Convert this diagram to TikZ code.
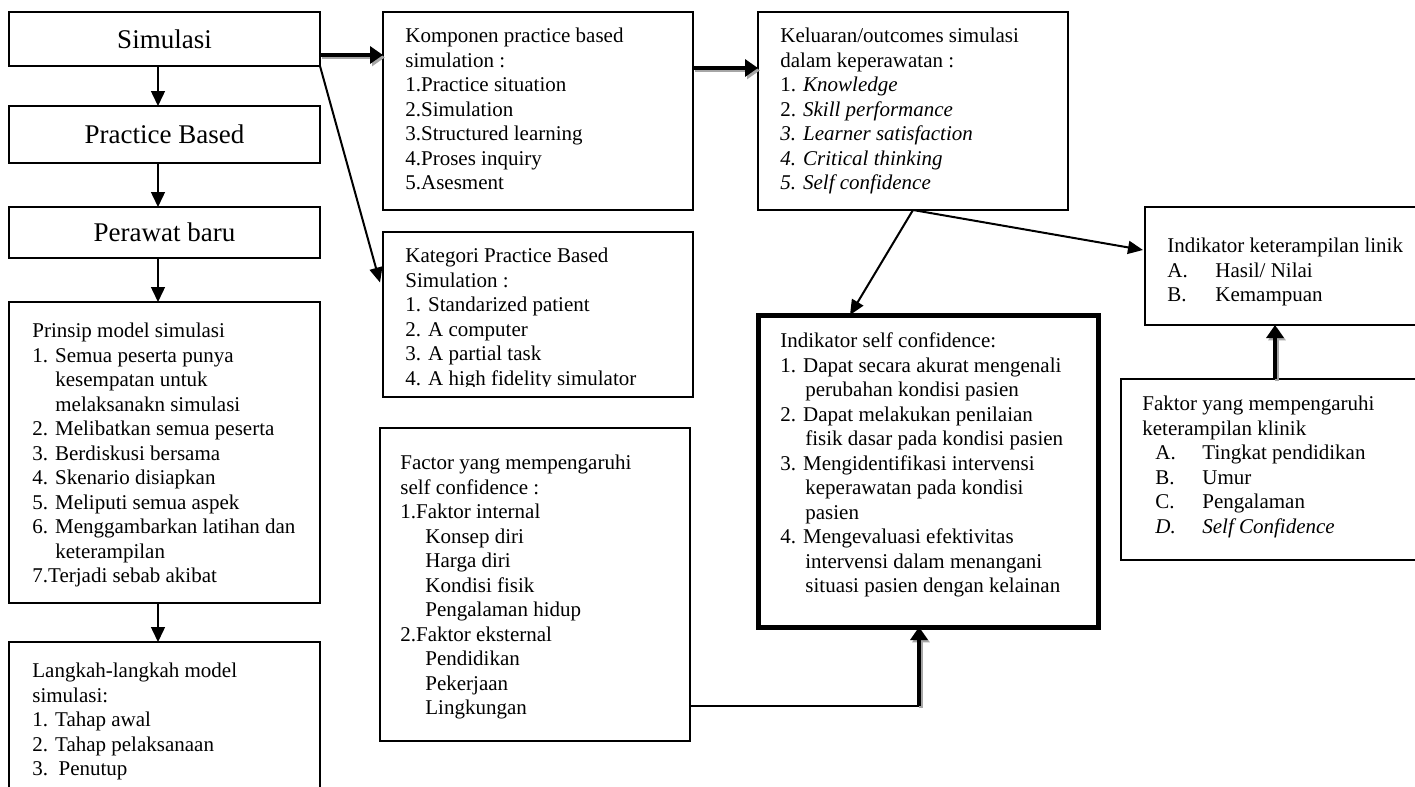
\documentclass[tikz,border=0pt]{standalone}
\usepackage{fontspec}
\setmainfont{Liberation Serif}
\usetikzlibrary{arrows.meta}
\begin{document}
\begin{tikzpicture}[x=0.5pt,y=-0.5pt,
 box/.style={draw, line width=1.2pt, rectangle, inner sep=0pt, outer sep=0pt, anchor=north west},
 title/.style={font=\fontsize{13.5pt}{16pt}\selectfont},
 txt/.style={anchor=north west, inner sep=0pt, align=left, font=\fontsize{10.5pt}{12.25pt}\selectfont},
 down/.style={line width=0.75pt, -{Triangle[length=7.5pt,width=7pt]}},
 diag/.style={line width=1pt, -{Triangle[length=7.5pt,width=6.5pt]}},
 heavy/.style={line width=2pt, -{Triangle[length=6.5pt,width=8.5pt]}},
 shadow/.style={heavy, draw=black!35, fill=black!35, transform canvas={shift={(1pt,-1.2pt)}}},
 thinline/.style={line width=0.75pt},
]
\useasboundingbox (0,0) rectangle (1415,787);
\fill[white] (0,0) rectangle (1415,787);
\clip (0,0) rectangle (1415,787);

% left column
\node[box, title, minimum width=155.5pt, minimum height=27pt] (sim) at (9,12) {Simulasi};
\node[box, title, minimum width=155.5pt, minimum height=28.5pt] (pb) at (9,106) {Practice Based};
\node[box, title, minimum width=155.5pt, minimum height=25.5pt] (pw) at (9,207) {Perawat baru};
\node[box, minimum width=155.5pt, minimum height=150.5pt] (pr) at (9,302) {};
\node[box, minimum width=155.5pt, minimum height=79pt] (lk) at (9,642) {};

\node[txt] (prt) at (32,320) {\strut Prinsip model simulasi\\
1. Semua peserta punya\\
\hspace*{11.5pt}kesempatan untuk\\
\hspace*{11.5pt}melaksanakn simulasi\\
2. Melibatkan semua peserta\\
3. Berdiskusi bersama\\
4. Skenario disiapkan\\
5. Meliputi semua aspek\\
6. Menggambarkan latihan dan\\
\hspace*{11.5pt}keterampilan\\
7.Terjadi sebab akibat};

\node[txt] (lkt) at (32,660) {\strut Langkah-langkah model\\
simulasi:\\
1. Tahap awal\\
2. Tahap pelaksanaan\\
3.\ \ Penutup};

% middle column
\node[box, minimum width=155pt, minimum height=99pt] (komp) at (383,12) {};
\node[txt] (kompt) at (405,25) {\strut Komponen practice based\\
simulation :\\
1.Practice situation\\
2.Simulation\\
3.Structured learning\\
4.Proses inquiry\\
5.Asesment};

\node[box, minimum width=155pt, minimum height=82.5pt] (kat) at (383,232) {};
\begin{scope}
\clip (383,232) rectangle (693,386);
\node[txt] (katt) at (405,245) {\strut Kategori Practice Based\\
Simulation :\\
1. Standarized patient\\
2. A computer\\
3. A partial task\\
4. A high fidelity simulator};
\end{scope}

\node[box, minimum width=155pt, minimum height=156.5pt] (fac) at (380,428) {};
\node[txt] (fact) at (400,452) {\strut Factor yang mempengaruhi\\
self confidence :\\
1.Faktor internal\\
\hspace*{12.5pt}Konsep diri\\
\hspace*{12.5pt}Harga diri\\
\hspace*{12.5pt}Kondisi fisik\\
\hspace*{12.5pt}Pengalaman hidup\\
2.Faktor eksternal\\
\hspace*{12.5pt}Pendidikan\\
\hspace*{12.5pt}Pekerjaan\\
\hspace*{12.5pt}Lingkungan};

% third column
\node[box, minimum width=155pt, minimum height=99pt] (kel) at (758,12) {};
\node[txt] (kelt) at (780,25) {\strut Keluaran/outcomes simulasi\\
dalam keperawatan :\\
1. \textit{Knowledge}\\
2. \textit{Skill performance}\\
\textit{3. Learner satisfaction}\\
\textit{4. Critical thinking}\\
\textit{5. Self confidence}};

\node[box, line width=2.5pt, minimum width=170pt, minimum height=156pt] (isc) at (758,315) {};
\node[txt] (isct) at (780,330) {\strut Indikator self confidence:\\
1. Dapat secara akurat mengenali\\
\hspace*{12.5pt}perubahan kondisi pasien\\
2. Dapat melakukan penilaian\\
\hspace*{12.5pt}fisik dasar pada kondisi pasien\\
3. Mengidentifikasi intervensi\\
\hspace*{12.5pt}keperawatan pada kondisi\\
\hspace*{12.5pt}pasien\\
4. Mengevaluasi efektivitas\\
\hspace*{12.5pt}intervensi dalam menangani\\
\hspace*{12.5pt}situasi pasien dengan kelainan};

% right column
\node[box, minimum width=142.5pt, minimum height=59pt] (ikt) at (1145,207) {};
\node[txt] (iktt) at (1167,235) {\strut Indikator keterampilan linik\\
\makebox[24pt][l]{A.}Hasil/ Nilai\\
\makebox[24pt][l]{B.}Kemampuan};

\node[box, minimum width=154.5pt, minimum height=90.5pt] (fk) at (1121,379) {};
\node[txt] (fkt) at (1142,393) {\strut Faktor yang mempengaruhi\\
keterampilan klinik\\
\hspace*{6.5pt}\makebox[23.5pt][l]{A.}Tingkat pendidikan\\
\hspace*{6.5pt}\makebox[23.5pt][l]{B.}Umur\\
\hspace*{6.5pt}\makebox[23.5pt][l]{C.}Pengalaman\\
\hspace*{6.5pt}\makebox[23.5pt][l]{\textit{D.}}\textit{Self Confidence}};

% connectors: left column
\draw[down] ([xshift=-3.25pt]sim.south) -- ([xshift=-3.25pt]pb.north);
\draw[down] ([xshift=-3.25pt]pb.south) -- ([xshift=-3.25pt]pw.north);
\draw[down] ([xshift=-3.25pt]pw.south) -- ([xshift=-3.25pt]pr.north);
\draw[down] ([xshift=-3.25pt]pr.south) -- ([xshift=-3.25pt]lk.north);

% heavy arrows
\coordinate (h1) at ([yshift=5.5pt]sim.south east);
\coordinate (h2) at ([yshift=-28pt]komp.north east);
\draw[shadow] (h1) -- (h1 -| komp.west);
\draw[heavy] (h1) -- (h1 -| komp.west);
\draw[shadow] (h2) -- (h2 -| kel.west);
\draw[heavy] (h2) -- (h2 -| kel.west);

% diagonal arrows
\draw[diag] (sim.south east) -- ([xshift=-1.5pt,yshift=16pt]kat.west);
\draw[diag] (kel.south) -- ([xshift=-39pt]isc.north);
\draw[diag] (kel.south) -- ([xshift=-1pt,yshift=8pt]ikt.west);

% factor -> indikator self confidence
\coordinate (bend) at (919,706);
\draw[thinline] (bend -| fac.east) -- (bend);
\draw[shadow] (bend) -- (bend |- isc.south);
\draw[heavy] (bend) -- (bend |- isc.south);

% faktor klinik -> indikator keterampilan
\coordinate (c3) at (1275,0);
\draw[shadow] (c3 |- fk.north) -- (c3 |- ikt.south);
\draw[heavy] (c3 |- fk.north) -- (c3 |- ikt.south);
\end{tikzpicture}
\end{document}
